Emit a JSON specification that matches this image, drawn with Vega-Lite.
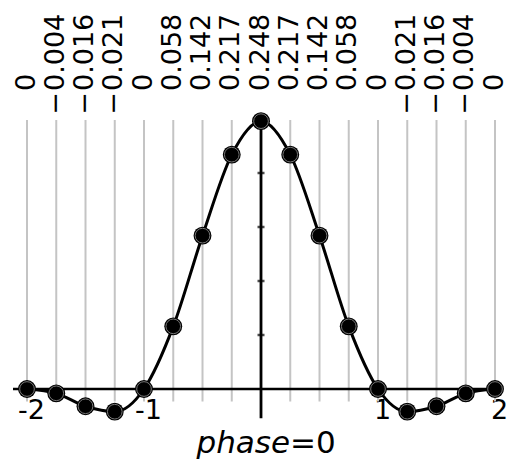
{
  "$schema": "https://vega.github.io/schema/vega-lite/v6.json",
  "width": 489,
  "height": 389,
  "autosize": {"type": "none"},
  "padding": {"left": 13, "right": 7, "top": 0, "bottom": 75},
  "background": "white",
  "config": {"view": {"stroke": null}, "font": "DejaVu Sans"},
  "datasets": {
    "samples": [
      {"phase": -2, "value": 0, "mag": "0", "sign": ""},
      {"phase": -1.75, "value": -0.004, "mag": "0.004", "sign": "−"},
      {"phase": -1.5, "value": -0.016, "mag": "0.016", "sign": "−"},
      {"phase": -1.25, "value": -0.021, "mag": "0.021", "sign": "−"},
      {"phase": -1, "value": 0, "mag": "0", "sign": ""},
      {"phase": -0.75, "value": 0.058, "mag": "0.058", "sign": ""},
      {"phase": -0.5, "value": 0.142, "mag": "0.142", "sign": ""},
      {"phase": -0.25, "value": 0.217, "mag": "0.217", "sign": ""},
      {"phase": 0, "value": 0.248, "mag": "0.248", "sign": ""},
      {"phase": 0.25, "value": 0.217, "mag": "0.217", "sign": ""},
      {"phase": 0.5, "value": 0.142, "mag": "0.142", "sign": ""},
      {"phase": 0.75, "value": 0.058, "mag": "0.058", "sign": ""},
      {"phase": 1, "value": 0, "mag": "0", "sign": ""},
      {"phase": 1.25, "value": -0.021, "mag": "0.021", "sign": "−"},
      {"phase": 1.5, "value": -0.016, "mag": "0.016", "sign": "−"},
      {"phase": 1.75, "value": -0.004, "mag": "0.004", "sign": "−"},
      {"phase": 2, "value": 0, "mag": "0", "sign": ""}
    ],
    "yticks": [
      {"tick": 0.05}, {"tick": 0.1}, {"tick": 0.15}, {"tick": 0.2}
    ]
  },
  "layer": [
    {
      "data": {"name": "samples"},
      "mark": {"type": "rule", "color": "#c4c4c4", "strokeWidth": 2},
      "encoding": {
        "x": {
          "field": "phase", "type": "quantitative",
          "scale": {"domain": [-2.1197, 2.0598], "nice": false, "zero": false},
          "axis": {
            "title": null, "values": [-2, -1, 1, 2], "domain": false, "ticks": false, "tickSize": 0,
            "grid": false, "labelFont": "DejaVu Sans", "labelFontSize": 27, "labelColor": "black",
            "labelPadding": 8, "labelOffset": 4, "labelFlush": false, "labelOverlap": false,
            "labelExpr": "datum.value < 0 ? '-' + abs(datum.value) : '' + datum.value"
          }
        },
        "y": {
          "datum": -0.0115, "type": "quantitative",
          "scale": {"domain": [0, 0.36019], "nice": false, "zero": false},
          "axis": null
        },
        "y2": {"datum": 0.249}
      }
    },
    {
      "data": {"values": [{}]},
      "mark": {"type": "rule", "color": "black", "strokeWidth": 2.5},
      "encoding": {
        "x": {"datum": -2.1197, "type": "quantitative"},
        "x2": {"datum": 2.0598},
        "y": {"datum": 0, "type": "quantitative"}
      }
    },
    {
      "data": {"values": [{}]},
      "mark": {"type": "rule", "color": "black", "strokeWidth": 2.8},
      "encoding": {
        "x": {"datum": 0, "type": "quantitative"},
        "y": {"datum": -0.027, "type": "quantitative"},
        "y2": {"datum": 0.248}
      }
    },
    {
      "data": {"name": "yticks"},
      "mark": {"type": "tick", "orient": "horizontal", "color": "black", "size": 7, "thickness": 2.5},
      "encoding": {
        "x": {"datum": 0, "type": "quantitative"},
        "y": {"field": "tick", "type": "quantitative"}
      }
    },
    {
      "data": {"name": "samples"},
      "mark": {"type": "line", "color": "black", "strokeWidth": 3, "interpolate": "monotone"},
      "encoding": {
        "x": {"field": "phase", "type": "quantitative"},
        "y": {"field": "value", "type": "quantitative"}
      }
    },
    {
      "data": {"name": "samples"},
      "mark": {"type": "circle", "color": "black", "size": 320, "opacity": 1},
      "encoding": {
        "x": {"field": "phase", "type": "quantitative"},
        "y": {"field": "value", "type": "quantitative"}
      }
    },
    {
      "data": {"name": "samples"},
      "mark": {"type": "point", "shape": "circle", "filled": false, "fill": "black", "fillOpacity": 1, "stroke": "#777777", "strokeWidth": 1, "size": 215, "opacity": 1},
      "encoding": {
        "x": {"field": "phase", "type": "quantitative"},
        "y": {"field": "value", "type": "quantitative"}
      }
    },
    {
      "data": {"name": "samples"},
      "mark": {"type": "text", "angle": 270, "align": "left", "baseline": "alphabetic", "dy": 7.5, "fontSize": 27, "font": "DejaVu Sans", "color": "black"},
      "encoding": {
        "x": {"field": "phase", "type": "quantitative"},
        "y": {"datum": 0.2759, "type": "quantitative"},
        "text": {"field": "mag"}
      }
    },
    {
      "data": {"name": "samples"},
      "mark": {"type": "text", "angle": 270, "align": "right", "baseline": "alphabetic", "dy": 7.5, "dx": -1, "fontSize": 27, "font": "DejaVu Sans", "color": "black"},
      "encoding": {
        "x": {"field": "phase", "type": "quantitative"},
        "y": {"datum": 0.2759, "type": "quantitative"},
        "text": {"field": "sign"}
      }
    },
    {
      "data": {"values": [{}]},
      "mark": {"type": "text", "align": "right", "baseline": "alphabetic", "fontSize": 31, "fontStyle": "italic", "font": "DejaVu Sans", "color": "black"},
      "encoding": {
        "x": {"datum": 0.2479, "type": "quantitative"},
        "y": {"datum": -0.0593, "type": "quantitative"},
        "text": {"value": "phase"}
      }
    },
    {
      "data": {"values": [{}]},
      "mark": {"type": "text", "align": "left", "baseline": "alphabetic", "fontSize": 31, "font": "DejaVu Sans", "color": "black"},
      "encoding": {
        "x": {"datum": 0.2479, "type": "quantitative"},
        "y": {"datum": -0.0593, "type": "quantitative"},
        "text": {"value": "=0"}
      }
    }
  ]
}
